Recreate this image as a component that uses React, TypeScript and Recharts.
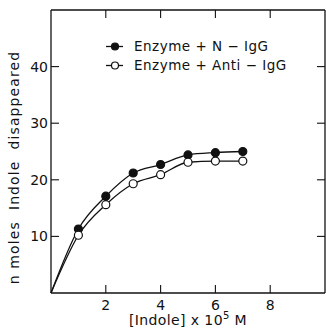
import React from 'react';
import { ComposedChart, Line, XAxis, YAxis, ReferenceLine } from 'recharts';

const indoleConc = [0, 1, 2, 3, 4, 5, 6, 7];
const nIgG = [0, 11.3, 17.1, 21.2, 22.7, 24.4, 24.8, 25.0];
const antiIgG = [0, 10.2, 15.6, 19.3, 20.9, 23.1, 23.3, 23.3];
const xTicks = [2, 4, 6, 8];
const yTicks = [10, 20, 30, 40];
const xDomain = [0, 10];
const yDomain = [0, 50];
const seriesNames = ['Enzyme + N \u2212 IgG', 'Enzyme + Anti \u2212 IgG'];

const data = indoleConc.map((x, i) => ({ x, n: nIgG[i], anti: antiIgG[i] }));

const FONT = 'DejaVu Sans, sans-serif';
const INK = '#111';

// layout
const CHART_W = 326;
const CHART_H = 334;
const MARGIN = { top: 9, right: 0, bottom: 0, left: 0 };
const LEFT_W = 51;
const RIGHT_W = 1;
const TOP_H = 1;
const BOTTOM_H = 41;
const PLOT_W = CHART_W - MARGIN.left - MARGIN.right - LEFT_W - RIGHT_W;
const PLOT_H = CHART_H - MARGIN.top - MARGIN.bottom - TOP_H - BOTTOM_H;
const TICK_LEN = 8;
// inward tick length expressed in axis units
const TDX = (TICK_LEN * (xDomain[1] - xDomain[0])) / PLOT_W;
const TDY = (TICK_LEN * (yDomain[1] - yDomain[0])) / PLOT_H;

const LeftTick = (props: any) => (
  <text x={props.x} y={props.y} dy={5} textAnchor="end" fontSize={14} fontFamily={FONT} fill={INK}>{props.payload.value}</text>
);
const BottomTick = (props: any) => (
  <text x={props.x} y={Number(props.y) + 15} textAnchor="middle" fontSize={14} fontFamily={FONT} fill={INK}>{props.payload.value}</text>
);

const makeDot = (filled: boolean) => (p: any) => {
  if (!p.payload || p.payload.x === 0) return <g key={p.index} />;
  return (
    <circle key={p.index} cx={p.cx} cy={p.cy} r={4} fill={filled ? INK : '#fff'} stroke={INK} strokeWidth={1.2} />
  );
};

const LegendBox = () => (
  <div style={{ position: 'absolute', left: 106, top: 37, fontFamily: FONT, fontSize: 13.5, letterSpacing: 0.5, color: INK, lineHeight: '19px' }}>
    {seriesNames.map((name, i) => (
      <div key={name} style={{ display: 'flex', alignItems: 'center', whiteSpace: 'pre' }}>
        <svg width={28} height={19}>
          <line x1={0} x2={17} y1={9.5} y2={9.5} stroke={INK} strokeWidth={1.3} />
          <circle cx={9} cy={9.5} r={3.5} fill={i === 0 ? INK : '#fff'} stroke={INK} strokeWidth={1.2} />
        </svg>
        <span>{name}</span>
      </div>
    ))}
  </div>
);

const YLabel = (props: any) => {
  const vb = props.viewBox;
  const cx = vb.x + 15;
  const cy = vb.y + vb.height / 2 + 16;
  return (
    <text x={cx} y={cy} transform={`rotate(-90 ${cx} ${cy})`} textAnchor="middle" dominantBaseline="middle" fontSize={14} letterSpacing={1.1} fontFamily={FONT} fill={INK} style={{ whiteSpace: 'pre' }}>
      {'n moles  Indole  disappeared'}
    </text>
  );
};

const XLabel = (props: any) => {
  const vb = props.viewBox;
  const cx = vb.x + vb.width / 2;
  const cy = vb.y + 32;
  return (
    <text x={cx} y={cy} textAnchor="middle" fontSize={14} letterSpacing={0.4} fontFamily={FONT} fill={INK}>
      [Indole] x 10<tspan dy={-6} fontSize={10}>5</tspan><tspan dy={6}> M</tspan>
    </text>
  );
};

export default function App() {
  const tickLines: React.ReactNode[] = [];
  xTicks.forEach((t) => {
    tickLines.push(
      <ReferenceLine key={`xb${t}`} xAxisId="b" yAxisId="l" segment={[{ x: t, y: yDomain[0] }, { x: t, y: yDomain[0] + TDY }]} stroke={INK} strokeWidth={1.1} ifOverflow="visible" />,
      <ReferenceLine key={`xt${t}`} xAxisId="b" yAxisId="l" segment={[{ x: t, y: yDomain[1] }, { x: t, y: yDomain[1] - TDY }]} stroke={INK} strokeWidth={1.1} ifOverflow="visible" />
    );
  });
  yTicks.forEach((t) => {
    tickLines.push(
      <ReferenceLine key={`yl${t}`} xAxisId="b" yAxisId="l" segment={[{ x: xDomain[0], y: t }, { x: xDomain[0] + TDX, y: t }]} stroke={INK} strokeWidth={1.1} ifOverflow="visible" />,
      <ReferenceLine key={`yr${t}`} xAxisId="b" yAxisId="l" segment={[{ x: xDomain[1], y: t }, { x: xDomain[1] - TDX, y: t }]} stroke={INK} strokeWidth={1.1} ifOverflow="visible" />
    );
  });
  return (
    <div style={{ position: 'absolute', left: 0, top: 0, width: CHART_W, height: CHART_H, background: '#fff' }}>
      <ComposedChart width={CHART_W} height={CHART_H} data={data} margin={MARGIN}>
        <XAxis xAxisId="b" dataKey="x" type="number" domain={xDomain} ticks={xTicks} height={BOTTOM_H}
          axisLine={{ stroke: INK, strokeWidth: 1.3 }} tickLine={false} tickSize={0} tick={BottomTick} label={<XLabel />} interval={0} />
        <XAxis xAxisId="t" orientation="top" dataKey="x" type="number" domain={xDomain} height={TOP_H}
          axisLine={{ stroke: INK, strokeWidth: 1.3 }} tickLine={false} tick={false} />
        <YAxis yAxisId="l" type="number" domain={yDomain} ticks={yTicks} width={LEFT_W}
          axisLine={{ stroke: INK, strokeWidth: 1.3 }} tickLine={false} tickSize={0} tickMargin={3} tick={LeftTick} label={<YLabel />} interval={0} />
        <YAxis yAxisId="r" orientation="right" type="number" domain={yDomain} width={RIGHT_W}
          axisLine={{ stroke: INK, strokeWidth: 1.3 }} tickLine={false} tick={false} />
        {tickLines}
        <Line xAxisId="t" yAxisId="r" type="monotone" dataKey="n" stroke="none" dot={false} activeDot={false} legendType="none" isAnimationActive={false} />
        <Line xAxisId="b" yAxisId="l" type="monotone" dataKey="n" stroke={INK} strokeWidth={1.3} dot={makeDot(true)} activeDot={false} isAnimationActive={false} />
        <Line xAxisId="b" yAxisId="l" type="monotone" dataKey="anti" stroke={INK} strokeWidth={1.3} dot={makeDot(false)} activeDot={false} isAnimationActive={false} />
      </ComposedChart>
      <LegendBox />
    </div>
  );
}
